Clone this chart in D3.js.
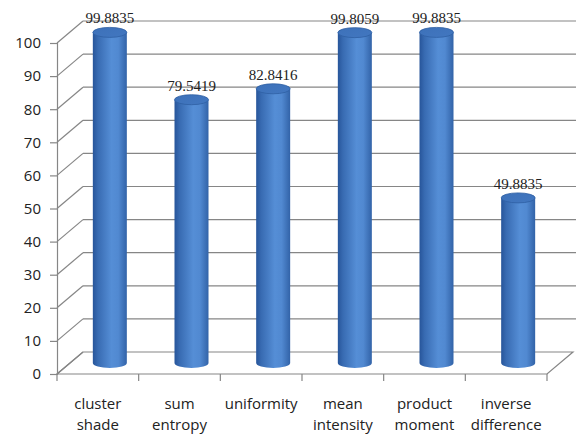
<!DOCTYPE html>
<html>
<head>
<meta charset="utf-8">
<script src="https://cdn.jsdelivr.net/npm/d3@7"></script>
<style>
  html, body { margin: 0; padding: 0; background: #fff; }
  svg { display: block; }
</style>
</head>
<body>
<svg id="chart" width="576" height="435"></svg>
<script>
// Texture features and their scores
const categories = ["cluster shade", "sum entropy", "uniformity", "mean intensity", "product moment", "inverse difference"];
const values = [99.8835, 79.5419, 82.8416, 99.8059, 99.8835, 49.8835];
const valueLabels = ["99.8835", "79.5419", "82.8416", "99.8059", "99.8835", "49.8835"];
const yTicks = [0, 10, 20, 30, 40, 50, 60, 70, 80, 90, 100];

const svg = d3.select("#chart");

// front plane of the 3D box
const x = d3.scaleBand().domain(categories).range([57, 547]).paddingInner(0).paddingOuter(0);
const y = d3.scaleLinear().domain([0, 100]).range([374, 43]);

// depth offset of the back wall
const DX = 26, DY = -22;
const gridColor = "#868686";

const defs = svg.append("defs");
const bodyGrad = defs.append("linearGradient").attr("id", "cylBody")
  .attr("x1", "0%").attr("x2", "100%").attr("y1", "0%").attr("y2", "0%");
[["0%", "#27559a"], ["15%", "#386bb2"], ["55%", "#558ed6"], ["75%", "#5189d1"], ["100%", "#3263a8"]]
  .forEach(([o, c]) => bodyGrad.append("stop").attr("offset", o).attr("stop-color", c));
const capGrad = defs.append("linearGradient").attr("id", "cylTop")
  .attr("x1", "0%").attr("x2", "100%").attr("y1", "0%").attr("y2", "100%");
[["0%", "#3d71b9"], ["100%", "#4277c0"]]
  .forEach(([o, c]) => capGrad.append("stop").attr("offset", o).attr("stop-color", c));

const grid = svg.append("g").attr("stroke", gridColor).attr("stroke-width", 1.2).attr("fill", "none");

// back-wall gridlines with their slanted connectors to the front axis
yTicks.forEach(t => {
  const yf = y(t);
  grid.append("line").attr("x1", 57).attr("y1", yf).attr("x2", 57 + DX).attr("y2", yf + DY);
  if (t > 0) {
    grid.append("line").attr("x1", 57 + DX).attr("y1", yf + DY).attr("x2", 576).attr("y2", yf + DY);
  }
});

// floor
const x0 = x.range()[0], x1 = x.range()[1];
grid.append("path")
  .attr("d", `M${x0},${y(0)} L${x1},${y(0)} L${x1 + DX},${y(0) + DY} L${x0 + DX},${y(0) + DY} Z`);

// front value axis
const yAxis = d3.axisLeft(y).tickValues(yTicks).tickSize(7).tickPadding(9);
const ay = svg.append("g").attr("transform", "translate(57,0)").call(yAxis);
ay.select(".domain").attr("stroke", gridColor).attr("stroke-width", 1.2);
ay.selectAll(".tick line").attr("stroke", gridColor).attr("stroke-width", 1.2);
ay.selectAll(".tick text").attr("font-family", "Open Sans, sans-serif").attr("font-size", 15).attr("fill", "#222");

// category axis ticks
const catTicks = categories.map(c => x(c)).concat([x1]);
svg.append("g").selectAll("line").data(catTicks).join("line")
  .attr("x1", d => d).attr("x2", d => d).attr("y1", y(0)).attr("y2", y(0) + 7)
  .attr("stroke", gridColor).attr("stroke-width", 1.2);

// category labels (two lines)
const lab = svg.append("g").attr("font-family", "Open Sans, sans-serif").attr("font-size", 15)
  .attr("fill", "#222").attr("text-anchor", "middle");
categories.forEach(c => {
  const words = c.split(" ");
  const t = lab.append("text").attr("x", x(c) + x.bandwidth() / 2).attr("y", 409);
  words.forEach((w, i) => t.append("tspan").attr("x", x(c) + x.bandwidth() / 2).attr("dy", i ? 21 : 0).text(w));
});

// cylinders sit halfway into the depth
const R = 17, RY = 5;
const cyl = svg.append("g");
categories.forEach((c, i) => {
  const cx = x(c) + x.bandwidth() / 2 + DX / 2 - 1;
  const yb = y(0) + DY / 2;
  const yt = y(values[i]) + DY / 2;
  const g = cyl.append("g");
  g.append("path")
    .attr("d", `M${cx - R},${yt} L${cx - R},${yb} A${R},${RY} 0 0 0 ${cx + R},${yb} L${cx + R},${yt} Z`)
    .attr("fill", "url(#cylBody)");
  g.append("ellipse").attr("cx", cx).attr("cy", yt).attr("rx", R).attr("ry", RY)
    .attr("fill", "url(#cylTop)").attr("stroke", "#2e5fa3").attr("stroke-width", 0.8);
  svg.append("text").attr("x", cx).attr("y", yt - 9)
    .attr("text-anchor", "middle").attr("font-family", "Liberation Serif, Times New Roman, serif")
    .attr("font-size", 15).attr("fill", "#222").text(valueLabels[i]);
});
</script>
</body>
</html>
